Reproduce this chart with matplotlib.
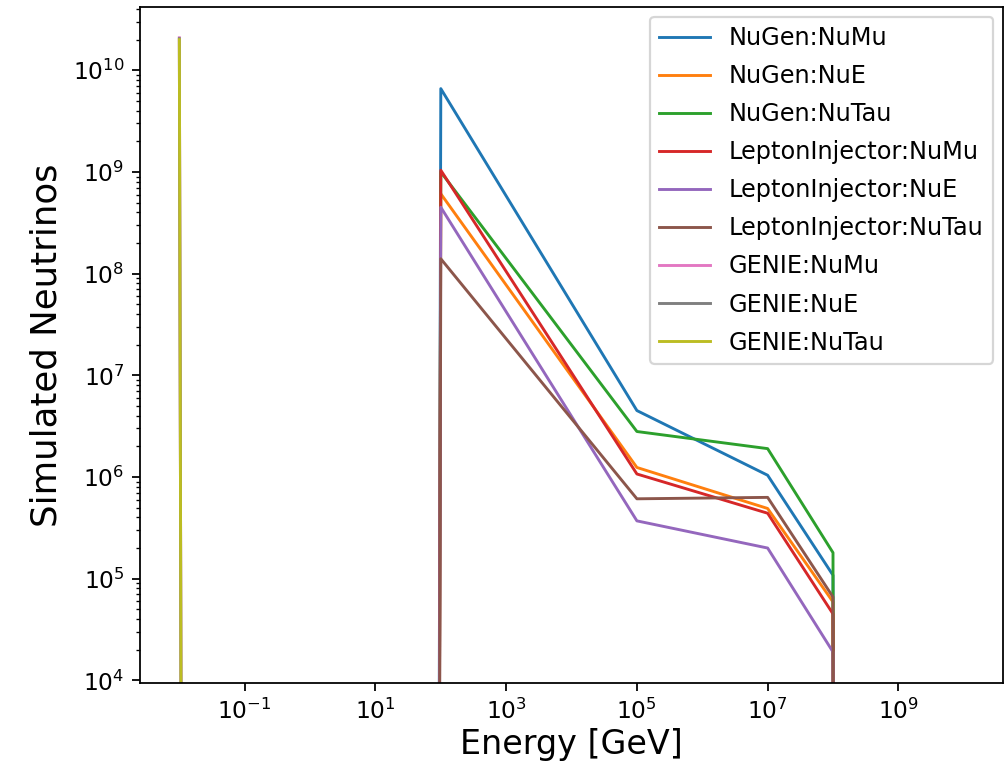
import matplotlib
matplotlib.use("Agg")
import matplotlib.pyplot as plt
import numpy as np

# energy points [GeV]
energy = [1e-2, 1e2, 1e5, 1e7, 1e8, 1e10]

nugen_numu = [0, 6.6e9, 4.5e6, 1.04e6, 1.08e5, 0]
nugen_nue = [0, 6.1e8, 1.24e6, 4.9e5, 5.9e4, 0]
nugen_nutau = [0, 1.0e9, 2.8e6, 1.9e6, 1.8e5, 0]
li_numu = [0, 1.04e9, 1.07e6, 4.4e5, 4.5e4, 0]
li_nue = [0, 4.5e8, 3.7e5, 2.0e5, 1.9e4, 0]
li_nutau = [0, 1.4e8, 6.1e5, 6.3e5, 6.6e4, 0]
genie_numu = [2.09e10, 0, 0, 0, 0, 0]
genie_nue = [2.05e10, 0, 0, 0, 0, 0]
genie_nutau = [2.0e10, 0, 0, 0, 0, 0]

series = [
    ("NuGen:NuMu", nugen_numu),
    ("NuGen:NuE", nugen_nue),
    ("NuGen:NuTau", nugen_nutau),
    ("LeptonInjector:NuMu", li_numu),
    ("LeptonInjector:NuE", li_nue),
    ("LeptonInjector:NuTau", li_nutau),
    ("GENIE:NuMu", genie_numu),
    ("GENIE:NuE", genie_nue),
    ("GENIE:NuTau", genie_nutau),
]

fig, ax = plt.subplots(figsize=(6.3, 4.8875), dpi=160)
fig.subplots_adjust(left=0.139, right=0.995, bottom=0.127, top=0.991)

for name, vals in series:
    ax.plot(energy, vals, label=name, lw=1.3)

ax.set_xscale("log")
ax.set_yscale("log")
ax.tick_params(labelsize=10.5)
ax.set_xlabel("Energy [GeV]", fontsize=15, labelpad=2)
ax.set_ylabel("Simulated Neutrinos", fontsize=16, labelpad=4)
ax.legend(loc="upper right", fontsize=10.8, labelspacing=0.585,
          handlelength=2.1, borderaxespad=0.4)

fig.savefig("out.png", dpi=160)
